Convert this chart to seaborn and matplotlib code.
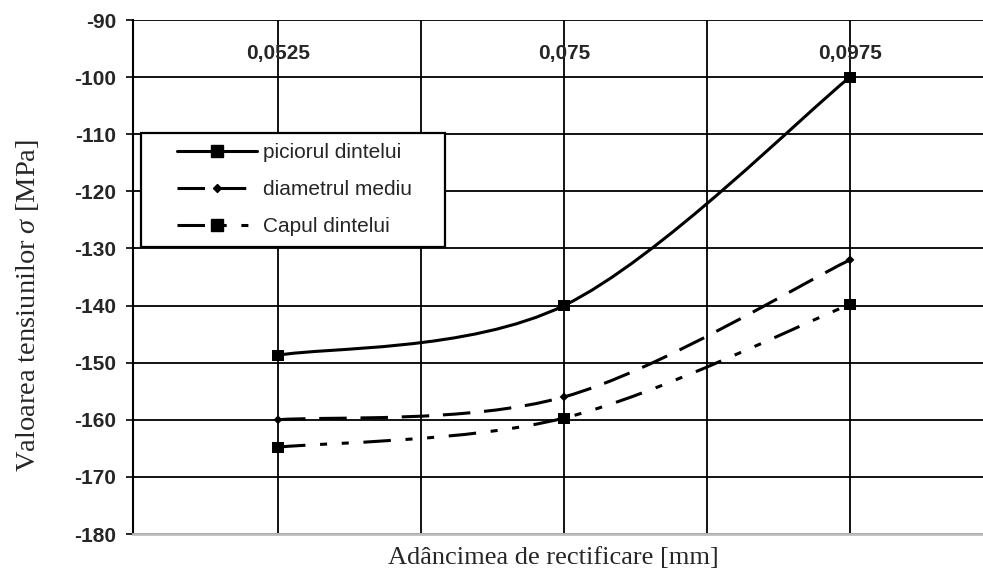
import numpy as np
import pandas as pd
import matplotlib
matplotlib.use("Agg")
import matplotlib.pyplot as plt
import seaborn as sns
from matplotlib.path import Path
from matplotlib.patches import PathPatch, Rectangle
from matplotlib.lines import Line2D

# ---- data ----
adancime = [0.0525, 0.075, 0.0975]
etichete_x = ["0,0525", "0,075", "0,0975"]
picior = [-148.7, -140.0, -100.0]
diametru = [-160.0, -156.0, -132.0]
cap = [-164.8, -159.7, -139.8]
serii = ["piciorul dintelui", "diametrul mediu", "Capul dintelui"]

sns.set_style("white")
plt.rcParams["font.family"] = ["Liberation Sans", "DejaVu Sans"]
plt.rcParams["mathtext.fontset"] = "custom"
plt.rcParams["mathtext.rm"] = "Liberation Serif"
plt.rcParams["mathtext.it"] = "Liberation Serif:italic"

df = pd.DataFrame({
    "x": adancime * 3,
    "y": picior + diametru + cap,
    "serie": [s for s in serii for _ in adancime],
})

W, H = 983, 575
fig = plt.figure(figsize=(W / 100, H / 100), dpi=100)
ax = fig.add_axes([133 / W, 1 - 534 / H, 850 / W, 514 / H])

# stiluri: (linestyle in units of lw, marker, marker size)
stiluri = {
    "piciorul dintelui": ("-", "s", 8),
    "diametrul mediu": ((0, (9, 4.5)), "D", 4.5),
    "Capul dintelui": ((0, (9, 4.8, 2.3, 4.8, 2.3, 4.8)), "s", 8),
}
LW = 2.2


def cale_netezita(xs, ys):
    # curba Bezier ca la "smoothed line" din Excel
    pts = list(zip(xs, ys))
    n = len(pts)
    verts = [pts[0]]
    codes = [Path.MOVETO]
    for i in range(n - 1):
        p0 = pts[max(i - 1, 0)]
        p1 = pts[i]
        p2 = pts[i + 1]
        p3 = pts[min(i + 2, n - 1)]
        c1 = (p1[0] + (p2[0] - p0[0]) / 6, p1[1] + (p2[1] - p0[1]) / 6)
        c2 = (p2[0] - (p3[0] - p1[0]) / 6, p2[1] - (p3[1] - p1[1]) / 6)
        verts += [c1, c2, p2]
        codes += [Path.CURVE4] * 3
    return Path(verts, codes)


for nume, vals in zip(serii, [picior, diametru, cap]):
    ls, mk, ms = stiluri[nume]
    patch = PathPatch(cale_netezita(adancime, vals), facecolor="none",
                      edgecolor="black", lw=LW, linestyle=ls,
                      capstyle="butt", zorder=3)
    ax.add_patch(patch)

sns.scatterplot(data=df, x="x", y="y", style="serie",
                markers={s: stiluri[s][1] for s in serii},
                size="serie", sizes={s: stiluri[s][2] ** 2 for s in serii},
                color="black", edgecolor="black", linewidth=0,
                legend=False, ax=ax, zorder=4)

# axe
pas_x = (adancime[1] - adancime[0]) / 2
ax.set_xlim(adancime[0] - 145 * 0.045 / 572, adancime[-1] + 133 * 0.045 / 572)
ax.set_ylim(-180, -90)
ax.set_xticks([adancime[0] + k * pas_x for k in range(5)])
ax.set_xticklabels([])
ax.tick_params(axis="x", length=0)
ax.set_yticks(np.arange(-180, -89, 10))
ax.set_yticklabels([str(v) for v in range(-180, -89, 10)],
                   fontsize=15, fontweight="bold")
ax.tick_params(axis="y", direction="out", length=5, width=1.2,
               color="black", pad=7, left=True)
ax.grid(True, color="black", lw=1.3)
ax.set_axisbelow(True)
ax.set_xlabel("")
ax.set_ylabel("")

for s in ["right", "top"]:
    ax.spines[s].set_visible(False)
ax.spines["left"].set_color("black")
ax.spines["left"].set_linewidth(1.5)
ax.spines["bottom"].set_color("#bfbfbf")
ax.spines["bottom"].set_linewidth(2)

for xv, et in zip(adancime, etichete_x):
    ax.text(xv, -95.8, et, ha="center", va="center",
            fontsize=15, fontweight="bold", zorder=5)

fig.text(553 / W, 1 - 558 / H, "Adâncimea de rectificare [mm]",
         ha="center", va="center", fontsize=19, family="Liberation Serif")
fig.text(28 / W, 1 - 306 / H, r"Valoarea tensiunilor $\sigma$ [MPa]",
         ha="center", va="center", rotation=90, fontsize=20.5,
         family="Liberation Serif")

# legenda
fig.add_artist(Rectangle((141 / W, 1 - 247 / H), 304 / W, 114 / H,
                         transform=fig.transFigure, facecolor="white",
                         edgecolor="black", lw=1.6, zorder=4))
handles = [Line2D([], [], color="black", lw=LW, linestyle=stiluri[s][0],
                  marker=stiluri[s][1], markersize=stiluri[s][2],
                  dash_capstyle="butt")
           for s in serii]
fig.legend(handles, serii, loc="upper left",
           bbox_to_anchor=(177 / W, 1 - 143 / H), bbox_transform=fig.transFigure,
           frameon=False, borderaxespad=0, borderpad=0, fontsize=15,
           handlelength=3.84, handletextpad=0.3, labelspacing=0.86)

fig.savefig("out.png", dpi=100)
